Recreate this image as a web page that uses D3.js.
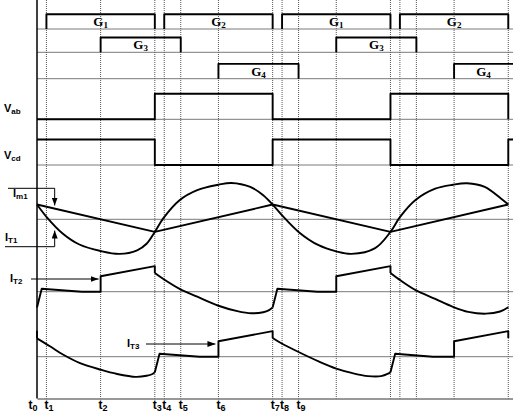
<!DOCTYPE html>
<html>
<head>
<meta charset="utf-8">
<script src="https://cdn.jsdelivr.net/npm/d3@7"></script>
<style>
body { margin: 0; background: #fff; }
svg { display: block; }
</style>
</head>
<body>
<svg width="513" height="414"></svg>
<script>
// time in units where one half period = 100
var tickTimes = [0, 8, 54, 100, 108, 122, 154, 200, 208, 222];
var tickNames = ["0", "1", "2", "3", "4", "5", "6", "7", "8", "9"];
var guideTimes = [8, 54, 100, 108, 122, 154, 200, 208, 222, 254, 300, 308, 322, 354, 400];

// gate pulses [on, off]
var g1Pulses = [[8, 100], [208, 300]];
var g2Pulses = [[108, 200], [308, 400]];
var g3Pulses = [[54, 122], [254, 322]];
var g4Pulses = [[154, 222], [354, 404]];

// bridge voltages [time, level]
var vab = [[0, 0], [100, 0], [100, 1], [200, 1], [200, 0], [300, 0], [300, 1], [400, 1], [400, 0]];
var vcd = [[0, 1], [100, 1], [100, 0], [200, 0], [200, 1], [300, 1], [300, 0], [400, 0], [400, 1], [404, 1]];

// currents [time, value]
var im1 = [[0, 4.1], [100, -3.5], [200, 4.1], [300, -3.5], [400, 4.1]];
var it1 = [[0, 4.1], [8, 0.7], [22, -4.0], [36, -7.0], [54, -8.8], [70, -9.6], [85, -8.6], [93, -6.8],
  [100, -3.5], [107, 0.2], [121, 5.3], [136, 8.1], [154, 9.6], [165, 10.1], [181, 9.0], [192, 6.7],
  [200, 4.1], [208, 1.1], [222, -3.5], [239, -7.2], [254, -8.9], [267, -9.6], [287, -8.0],
  [300, -3.5], [308, 0.6], [321, 5.3], [338, 8.5], [353, 9.6], [365, 10.0], [380, 9.0], [394, 5.7], [400, 4.1]];

// thyristor currents as pieces: straight ("line") or smooth ("curve")
var it2 = [
  ["line", [[0, -4.4], [4, 0.8], [38, 0], [54, 0], [54, 4.3], [100, 7.1], [100, 5.2]]],
  ["curve", [[100, 5.2], [107, 3.6], [121, 0.8], [136, -1.4], [154, -3.9], [170, -5.4], [182, -6.0], [192, -5.7], [197, -5.1], [200, -4.4]]],
  ["line", [[200, -4.4], [204, 0.8], [238, 0], [254, 0], [254, 4.3], [300, 7.1], [300, 5.2]]],
  ["curve", [[300, 5.2], [307, 3.5], [321, 0.5], [338, -2.0], [353, -4.2], [366, -5.6], [381, -6.1], [393, -5.5], [400, -4.3]]]
];
var it3 = [
  ["line", [[0, 7.2], [0, 5.1]]],
  ["curve", [[0, 5.1], [11, 2.9], [22, 0.6], [36, -1.7], [54, -3.6], [68, -4.8], [84, -5.6], [93, -5.3], [98, -4.8], [100, -4.3]]],
  ["line", [[100, -4.3], [104, 0.8], [138, 0], [154, 0], [154, 4.3], [200, 7.1], [200, 5.2]]],
  ["curve", [[200, 5.2], [207, 3.8], [222, 1.3], [239, -1.3], [254, -3.3], [267, -4.5], [281, -5.4], [292, -5.4], [298, -4.7], [300, -4.3]]],
  ["line", [[300, -4.3], [304, 0.8], [336, 0], [354, 0], [354, 4.3], [400, 7.1], [400, 5.2]]]
];

var svg = d3.select("svg"),
    width = +svg.attr("width"),
    top = 5, bottom = 398.5;

var x = d3.scaleLinear().domain([0, 404]).range([37, 513]);
var yGate = d3.scaleLinear().domain([0, 1]).range([0, -14.8]);
var yVolt = d3.scaleLinear().domain([0, 1]).range([0, -25.5]);
var yCur = d3.scaleLinear().domain([0, 1]).range([0, -3.6]);

// row baselines
var rows = {g12: 29, g3: 52.3, g4: 78.7, vab: 119.3, vcd: 165, im: 219.3, it2: 291.7, it3: 356.7};

var sans = "'Liberation Sans', Arial, sans-serif",
    serif = "'Liberation Serif', 'Times New Roman', serif";

// grey baselines
svg.append("g").selectAll("line")
    .data(Object.values(rows))
    .enter().append("line")
    .attr("x1", x(0)).attr("x2", width)
    .attr("y1", function(d) { return d; }).attr("y2", function(d) { return d; })
    .attr("stroke", "#7a7a7a")
    .attr("stroke-width", 1);

// dotted switching instants
svg.append("g").selectAll("line")
    .data(guideTimes)
    .enter().append("line")
    .attr("x1", function(d) { return x(d); }).attr("x2", function(d) { return x(d); })
    .attr("y1", top).attr("y2", bottom)
    .attr("stroke", "#555")
    .attr("stroke-width", 1)
    .attr("stroke-dasharray", "1,1");

// bottom time axis
var xAxis = d3.axisBottom(x)
    .tickValues(tickTimes)
    .tickSize(0)
    .tickSizeOuter(0)
    .tickPadding(2)
    .tickFormat("");

var ax = svg.append("g")
    .attr("transform", "translate(0," + bottom + ")")
    .call(xAxis);
ax.select(".domain").attr("stroke", "#333").attr("stroke-width", 1);
ax.selectAll(".tick text")
    .attr("font-family", sans)
    .attr("font-weight", "bold")
    .attr("font-size", 12)
    .attr("fill", "#000")
    .attr("text-anchor", function(d, i) { return i === 0 ? "end" : "middle"; })
    .attr("dx", function(d, i) { return i === 0 ? 0 : 2; })
    .each(function(d, i) {
        var t = d3.select(this);
        t.append("tspan").text("t");
        t.append("tspan").attr("font-size", 9).attr("dy", 1.5).text(tickNames[i]);
    });

// vertical axis
svg.append("line")
    .attr("x1", x(0)).attr("x2", x(0))
    .attr("y1", top).attr("y2", bottom)
    .attr("stroke", "#000")
    .attr("stroke-width", 1.5);

var trace = function(path) {
    return svg.append("path")
        .attr("d", path)
        .attr("fill", "none")
        .attr("stroke", "#000")
        .attr("stroke-width", 1.9)
        .attr("stroke-linejoin", "round");
};

// gate pulses
var gateRow = function(pulses, base) {
    var line = d3.line()
        .x(function(d) { return x(d[0]); })
        .y(function(d) { return base + yGate(d[1]); });
    pulses.forEach(function(p) {
        var pts = [[p[0], 0], [p[0], 1], [p[1], 1]];
        if (p[1] < 404) pts.push([p[1], 0]);
        trace(line(pts));
    });
};
gateRow(g1Pulses, rows.g12);
gateRow(g2Pulses, rows.g12);
gateRow(g3Pulses, rows.g3);
gateRow(g4Pulses, rows.g4);

var voltLine = function(base) {
    return d3.line()
        .x(function(d) { return x(d[0]); })
        .y(function(d) { return base + yVolt(d[1]); });
};
trace(voltLine(rows.vab)(vab));
trace(voltLine(rows.vcd)(vcd));

var curLine = function(base, curve) {
    return d3.line()
        .x(function(d) { return x(d[0]); })
        .y(function(d) { return base + yCur(d[1]); })
        .curve(curve);
};
trace(curLine(rows.im, d3.curveLinear)(im1));
trace(curLine(rows.im, d3.curveCatmullRom)(it1));

var pieces = function(list, base) {
    list.forEach(function(p) {
        var c = p[0] === "curve" ? d3.curveCatmullRom : d3.curveLinear;
        trace(curLine(base, c)(p[1]));
    });
};
pieces(it2, rows.it2);
pieces(it3, rows.it3);

// labels
var label = function(px, py, main, sub, font, size, subSize) {
    var t = svg.append("text")
        .attr("x", px).attr("y", py)
        .attr("font-family", font)
        .attr("font-weight", "bold")
        .attr("font-size", size)
        .attr("text-anchor", "start");
    t.append("tspan").text(main);
    t.append("tspan").attr("font-size", subSize).attr("dy", 2).text(sub);
    return t;
};

var gateLabel = function(pulses, base, sub) {
    pulses.forEach(function(p) {
        var mid = (x(p[0]) + Math.min(x(p[1]), width)) / 2;
        label(mid, base - 3, "G", sub, serif, 13, 9).attr("text-anchor", "middle");
    });
};
gateLabel(g1Pulses, rows.g12, "1");
gateLabel(g2Pulses, rows.g12, "2");
gateLabel(g3Pulses, rows.g3, "3");
gateLabel(g4Pulses, rows.g4, "4");

label(4, 112, "V", "ab", sans, 11, 8);
label(4, 159, "V", "cd", sans, 11, 8);
label(13, 197, "I", "m1", sans, 11, 8);
label(5, 241, "I", "T1", sans, 11, 8);
label(10, 282, "I", "T2", sans, 11, 8);
label(127, 347, "I", "T3", sans, 11, 8);

// arrows
svg.append("defs").append("marker")
    .attr("id", "arrow")
    .attr("viewBox", "0 0 8 6")
    .attr("refX", 8).attr("refY", 3)
    .attr("markerWidth", 8).attr("markerHeight", 6)
    .attr("markerUnits", "userSpaceOnUse")
    .attr("orient", "auto")
    .append("path")
    .attr("d", "M0,0L8,3L0,6Z")
    .attr("fill", "#000");

var arrow = function(d) {
    svg.append("path")
        .attr("d", d)
        .attr("fill", "none")
        .attr("stroke", "#000")
        .attr("stroke-width", 1)
        .attr("marker-end", "url(#arrow)");
};
arrow("M8,188.3H" + x(15) + "V205.5");
arrow("M5,246.7H" + x(15) + "V230.5");
arrow("M31,279H" + (x(54) - 2));
arrow("M146,344H" + (x(154) - 3));
</script>
</body>
</html>
